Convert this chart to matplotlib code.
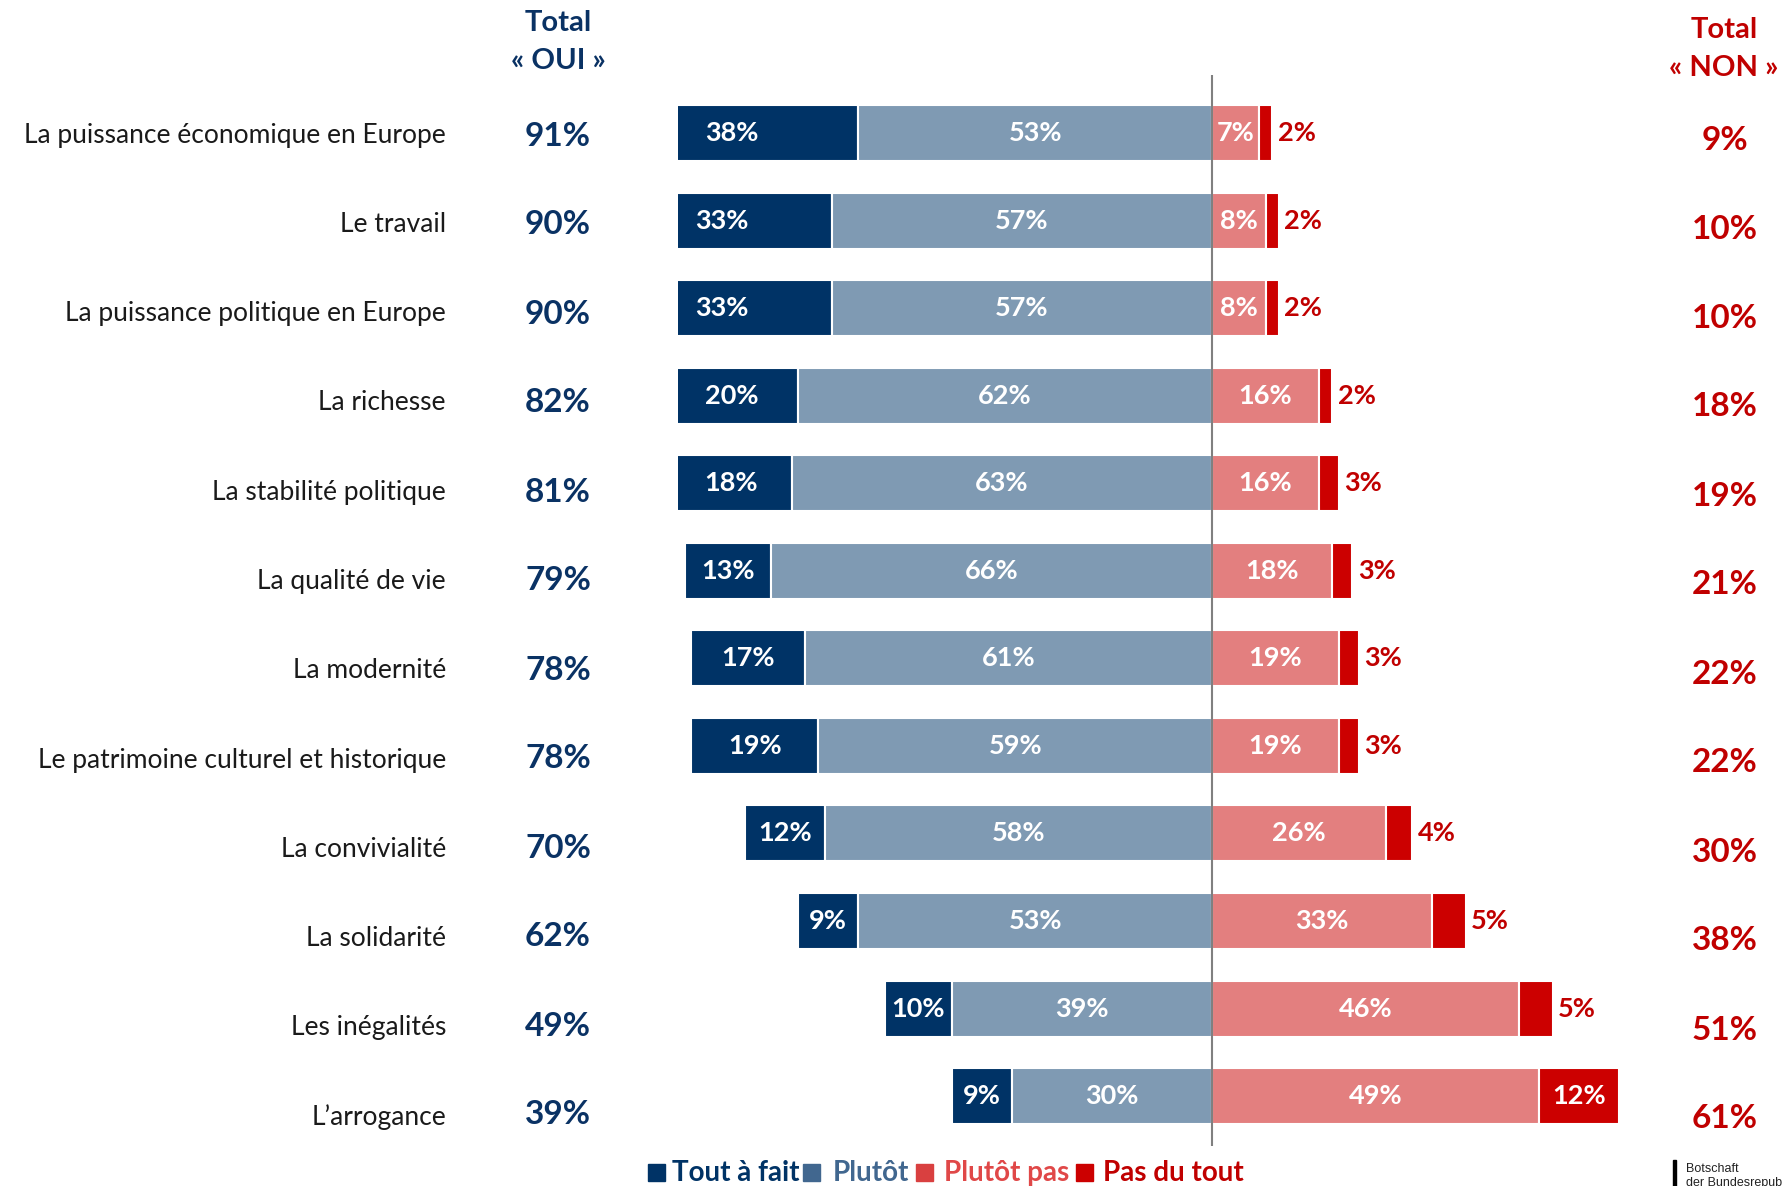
import matplotlib
matplotlib.use("Agg")
import matplotlib.pyplot as plt
from matplotlib.patches import Rectangle

# Données
categories = ["La puissance économique en Europe", "Le travail",
              "La puissance politique en Europe", "La richesse",
              "La stabilité politique", "La qualité de vie", "La modernité",
              "Le patrimoine culturel et historique", "La convivialité",
              "La solidarité", "Les inégalités", "L\u2019arrogance"]
tout_a_fait = [38, 33, 33, 20, 18, 13, 17, 19, 12, 9, 10, 9]
plutot = [53, 57, 57, 62, 63, 66, 61, 59, 58, 53, 39, 30]
plutot_pas = [7, 8, 8, 16, 16, 18, 19, 19, 26, 33, 46, 49]
pas_du_tout = [2, 2, 2, 2, 3, 3, 3, 3, 4, 5, 5, 12]
total_oui = [91, 90, 90, 82, 81, 79, 78, 78, 70, 62, 49, 39]
total_non = [9, 10, 10, 18, 19, 21, 22, 22, 30, 38, 51, 61]
legend_labels = ["Tout à fait", "Plutôt", "Plutôt pas", "Pas du tout"]

# Couleurs
c_dark = "#003366"
c_light = "#7F9AB3"
c_pink = "#E37F7F"
c_red = "#CC0000"
c_navy_txt = "#0A3264"
c_red_txt = "#C00000"

plt.rcParams['font.family'] = ['Lato', 'DejaVu Sans']

W, H = 1783, 1186
fig = plt.figure(figsize=(W / 100, H / 100), dpi=100)

def fx(px):
    return px / W

def fy(py):
    return 1 - py / H

# Axe principal (barres) - les barres au-delà de -80% sont coupées comme sur l'original
ax_left, ax_right = 678, 1783
ax_top, ax_bot = 75, 1146
ax = fig.add_axes([fx(ax_left), fy(ax_bot), fx(ax_right - ax_left), (ax_bot - ax_top) / H])
ax.set_xlim(-80, 85.5)
ax.set_ylim(11.57, -0.662)
ax.axis('off')

y = list(range(len(categories)))
h = 0.64
left_dark = [-(a + b) for a, b in zip(tout_a_fait, plutot)]
left_light = [-b for b in plutot]
ax.barh(y, tout_a_fait, left=left_dark, height=h, color=c_dark, edgecolor='white', linewidth=1.5)
ax.barh(y, plutot, left=left_light, height=h, color=c_light, edgecolor='white', linewidth=1.5)
ax.barh(y, plutot_pas, left=0, height=h, color=c_pink, edgecolor='white', linewidth=1.5)
ax.barh(y, pas_du_tout, left=plutot_pas, height=h, color=c_red, edgecolor='white', linewidth=1.5)
ax.axvline(0, color='#808080', lw=1.5, zorder=5)

lab_kw = dict(ha='center', va='center', fontsize=19.5, fontweight='bold')
for i in y:
    ax.text(left_dark[i] + tout_a_fait[i] / 2, i, f"{tout_a_fait[i]}%", color='white', **lab_kw)
    ax.text(-plutot[i] / 2, i, f"{plutot[i]}%", color='white', **lab_kw)
    ax.text(plutot_pas[i] / 2, i, f"{plutot_pas[i]}%", color='white', **lab_kw)
    if pas_du_tout[i] >= 10:
        ax.text(plutot_pas[i] + pas_du_tout[i] / 2, i, f"{pas_du_tout[i]}%", color='white', **lab_kw)
    else:
        ax.text(plutot_pas[i] + pas_du_tout[i] + 0.8, i, f"{pas_du_tout[i]}%", color=c_red_txt,
                ha='left', va='center', fontsize=19.5, fontweight='bold')

# Libellés et totaux
for i, cat in enumerate(categories):
    fig.text(fx(446), fy(135 + 89.3 * i), cat, ha='right', va='center', fontsize=19, color='#1a1a1a')
    fig.text(fx(558), fy(136 + 89.0 * i), f"{total_oui[i]}%", ha='center', va='center',
             fontsize=24, fontweight='bold', color=c_navy_txt)
    fig.text(fx(1725), fy(140 + 89.0 * i), f"{total_non[i]}%", ha='center', va='center',
             fontsize=24, fontweight='bold', color=c_red_txt)

fig.text(fx(558), fy(23), "Total", ha='center', va='center', fontsize=21, fontweight='bold', color=c_navy_txt)
fig.text(fx(558), fy(61), "« OUI »", ha='center', va='center', fontsize=21, fontweight='bold', color=c_navy_txt)
fig.text(fx(1724), fy(30), "Total", ha='center', va='center', fontsize=21, fontweight='bold', color=c_red_txt)
fig.text(fx(1724), fy(68), "« NON »", ha='center', va='center', fontsize=21, fontweight='bold', color=c_red_txt)

# Légende
leg_sq_x = [648, 803, 916, 1076]
leg_txt_x = [672, 833, 944, 1103]
leg_sq_col = [c_dark, "#41678F", "#D94040", c_red]
leg_txt_col = [c_dark, "#41678F", "#E04848", c_red_txt]
for sx, tx, sc, tc, lab in zip(leg_sq_x, leg_txt_x, leg_sq_col, leg_txt_col, legend_labels):
    fig.patches.append(Rectangle((fx(sx), fy(1181)), fx(17), 17 / H, transform=fig.transFigure,
                                 color=sc, figure=fig))
    fig.text(fx(tx), fy(1181), lab, ha='left', va='baseline', fontsize=20, fontweight='bold', color=tc)

# Logo (coupé en bas, comme sur l'original)
fig.patches.append(Rectangle((fx(1673), 0), fx(3), 26 / H, transform=fig.transFigure,
                             color='black', figure=fig))
fig.text(fx(1686), fy(1163), "Botschaft", ha='left', va='top', fontsize=9,
         family='Liberation Sans', color='#222222')
fig.text(fx(1686), fy(1177), "der Bundesrepublik Deutschland", ha='left', va='top', fontsize=9,
         family='Liberation Sans', color='#222222')

fig.savefig("out.png", dpi=100)
